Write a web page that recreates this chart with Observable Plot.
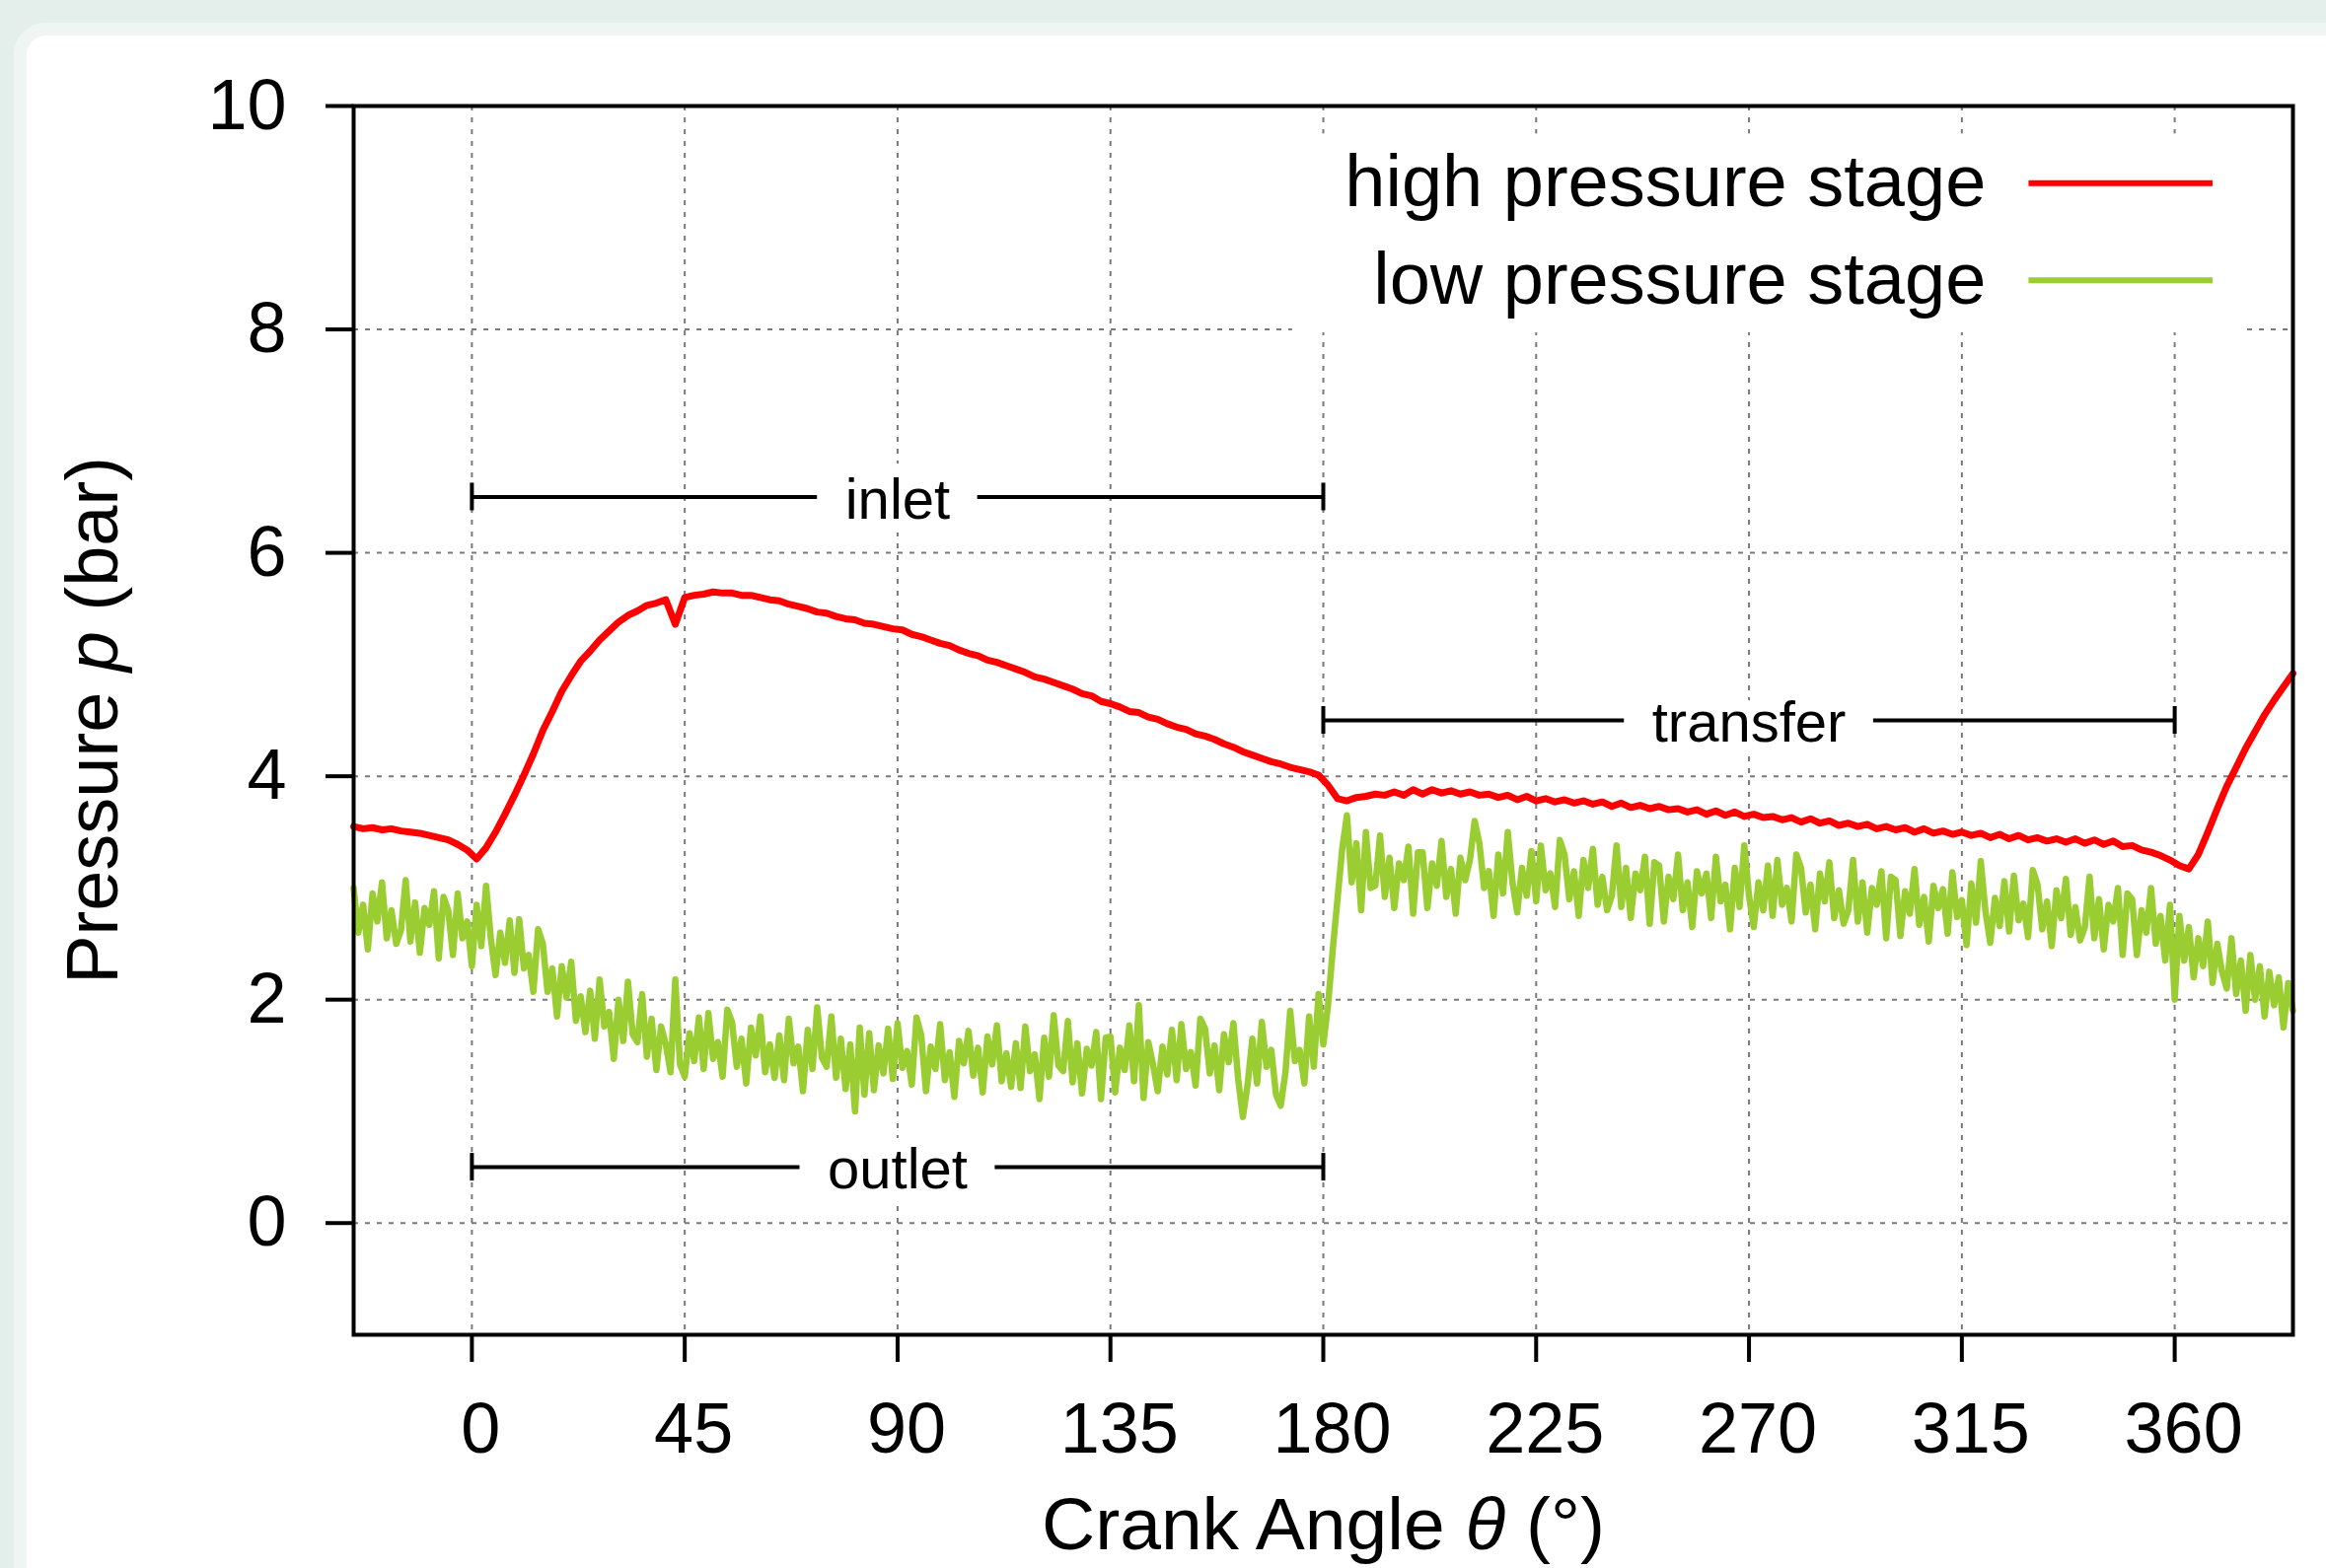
<!DOCTYPE html>
<html>
<head>
<meta charset="utf-8">
<script src="https://cdn.jsdelivr.net/npm/d3@7"></script>
<script src="https://cdn.jsdelivr.net/npm/@observablehq/plot@0.6"></script>
<style>
  html, body { margin: 0; padding: 0; }
  body { width: 2358px; height: 1590px; overflow: hidden; background: #e4eeea; position: relative;
         font-family: "Liberation Sans", Arial, sans-serif; }
  #ring { position: absolute; left: 14px; top: 23px; width: 2420px; height: 1660px; background: #eff5f2; border-radius: 32px; }
  #card { position: absolute; left: 27px; top: 36px; width: 2420px; height: 1660px; background: #ffffff; border-radius: 20px; }
  #chart { position: absolute; left: 0; top: 0; }
</style>
</head>
<body>
<div id="ring"></div>
<div id="card"></div>
<div id="chart"></div>
<script>
// ---------------- data ----------------
const xTicks = [0, 45, 90, 135, 180, 225, 270, 315, 360];
const yTicks = [0, 2, 4, 6, 8, 10];
const seriesNames = ["high pressure stage", "low pressure stage"];
const seriesColors = ["#ff0000", "#9acd32"];
const xTitle = "Crank Angle θ (°)";
const yTitle = "Pressure p (bar)";

// high pressure stage: sampled every 2° starting at -25°
const highStart = -25, highStep = 2;
const highPressure = [
  3.55, 3.53, 3.54, 3.52, 3.53, 3.51, 3.50, 3.49, 3.47, 3.45,
  3.43, 3.39, 3.34, 3.26, 3.36, 3.50, 3.66, 3.83, 4.01, 4.20,
  4.41, 4.58, 4.76, 4.90, 5.03, 5.12, 5.22, 5.30, 5.38, 5.44,
  5.48, 5.53, 5.55, 5.58, 5.36, 5.60, 5.62, 5.63, 5.65, 5.64,
  5.64, 5.62, 5.62, 5.60, 5.58, 5.57, 5.54, 5.52, 5.50, 5.47,
  5.46, 5.43, 5.41, 5.40, 5.37, 5.36, 5.34, 5.32, 5.31, 5.27,
  5.25, 5.22, 5.19, 5.17, 5.13, 5.10, 5.08, 5.04, 5.02, 4.99,
  4.96, 4.93, 4.89, 4.87, 4.84, 4.81, 4.78, 4.74, 4.72, 4.67,
  4.65, 4.62, 4.58, 4.57, 4.53, 4.51, 4.47, 4.44, 4.42, 4.38,
  4.36, 4.33, 4.29, 4.26, 4.22, 4.19, 4.16, 4.13, 4.11, 4.08,
  4.06, 4.04, 4.01, 3.92, 3.80, 3.78, 3.81, 3.82, 3.84, 3.83,
  3.86, 3.83, 3.88, 3.84, 3.88, 3.85, 3.87, 3.84, 3.86, 3.83,
  3.84, 3.81, 3.83, 3.79, 3.82, 3.78, 3.80, 3.77, 3.79, 3.76,
  3.78, 3.75, 3.77, 3.73, 3.76, 3.72, 3.74, 3.71, 3.73, 3.70,
  3.71, 3.68, 3.70, 3.66, 3.69, 3.65, 3.68, 3.64, 3.66, 3.63,
  3.64, 3.61, 3.63, 3.59, 3.62, 3.58, 3.60, 3.56, 3.58, 3.55,
  3.57, 3.53, 3.55, 3.52, 3.54, 3.50, 3.53, 3.49, 3.51, 3.48,
  3.50, 3.47, 3.49, 3.45, 3.48, 3.44, 3.47, 3.43, 3.45, 3.42,
  3.44, 3.41, 3.44, 3.40, 3.43, 3.39, 3.42, 3.37, 3.38, 3.34,
  3.32, 3.29, 3.25, 3.20, 3.17, 3.30, 3.50, 3.71, 3.91, 4.08,
  4.25, 4.40, 4.55, 4.68, 4.80, 4.92
];

// low pressure stage: sampled every 1° starting at -25°
const lowStart = -25, lowStep = 1;
const lowPressure = [
  3.00, 2.60, 2.85, 2.45, 2.95, 2.70, 3.05, 2.55, 2.80, 2.50,
  2.62, 3.07, 2.52, 2.87, 2.42, 2.82, 2.67, 2.97, 2.37, 2.92,
  2.80, 2.40, 2.95, 2.55, 2.70, 2.30, 2.85, 2.48, 3.02, 2.55,
  2.22, 2.60, 2.33, 2.71, 2.24, 2.72, 2.28, 2.40, 2.07, 2.63,
  2.50, 2.07, 2.28, 1.85, 2.30, 2.02, 2.34, 1.81, 2.03, 1.71,
  2.08, 1.65, 2.18, 1.76, 1.89, 1.47, 2.00, 1.63, 2.16, 1.69,
  1.62, 2.05, 1.49, 1.83, 1.37, 1.76, 1.60, 1.35, 2.18, 1.42,
  1.31, 1.70, 1.45, 1.84, 1.38, 1.88, 1.47, 1.62, 1.31, 1.91,
  1.80, 1.40, 1.65, 1.25, 1.75, 1.50, 1.85, 1.35, 1.60, 1.30,
  1.68, 1.28, 1.83, 1.43, 1.58, 1.18, 1.73, 1.38, 1.93, 1.48,
  1.40, 1.85, 1.30, 1.65, 1.20, 1.60, 1.00, 1.75, 1.15, 1.70,
  1.19, 1.59, 1.34, 1.74, 1.29, 1.79, 1.39, 1.54, 1.24, 1.84,
  1.68, 1.18, 1.58, 1.38, 1.78, 1.28, 1.53, 1.13, 1.63, 1.43,
  1.72, 1.32, 1.57, 1.17, 1.67, 1.42, 1.77, 1.27, 1.52, 1.22,
  1.61, 1.21, 1.76, 1.36, 1.51, 1.11, 1.66, 1.31, 1.86, 1.41,
  1.36, 1.81, 1.26, 1.61, 1.16, 1.56, 1.41, 1.71, 1.11, 1.66,
  1.67, 1.17, 1.57, 1.37, 1.77, 1.27, 1.95, 1.12, 1.62, 1.42,
  1.18, 1.58, 1.33, 1.73, 1.28, 1.78, 1.38, 1.53, 1.23, 1.83,
  1.74, 1.34, 1.59, 1.19, 1.69, 1.44, 1.79, 1.29, 0.95, 1.24,
  1.65, 1.25, 1.80, 1.40, 1.55, 1.15, 1.05, 1.35, 1.90, 1.45,
  1.55, 1.25, 1.85, 1.40, 2.05, 1.60, 1.95, 2.45, 2.90, 3.35,
  3.65, 3.05, 3.40, 2.80, 3.50, 3.00, 3.02, 3.47, 2.92, 3.27,
  2.82, 3.22, 3.07, 3.37, 2.77, 3.32, 3.32, 2.82, 3.22, 3.02,
  3.42, 2.92, 3.17, 2.77, 3.27, 3.07, 3.25, 3.60, 3.40, 3.00,
  3.15, 2.75, 3.30, 2.95, 3.50, 3.05, 2.78, 3.18, 2.93, 3.33,
  2.88, 3.38, 2.98, 3.13, 2.83, 3.43, 3.30, 2.90, 3.15, 2.75,
  3.25, 3.00, 3.35, 2.85, 3.10, 2.80, 2.93, 3.38, 2.83, 3.18,
  2.73, 3.13, 2.98, 3.28, 2.68, 3.23, 3.20, 2.70, 3.10, 2.90,
  3.30, 2.80, 3.05, 2.65, 3.15, 2.95, 3.13, 2.73, 3.28, 2.88,
  3.03, 2.63, 3.18, 2.83, 3.38, 2.93, 2.65, 3.05, 2.80, 3.20,
  2.75, 3.25, 2.85, 3.00, 2.70, 3.30, 3.18, 2.78, 3.03, 2.63,
  3.13, 2.88, 3.23, 2.73, 2.98, 2.68, 2.80, 3.25, 2.70, 3.05,
  2.60, 3.00, 2.85, 3.15, 2.55, 3.10, 3.07, 2.57, 2.97, 2.77,
  3.17, 2.67, 2.92, 2.52, 3.02, 2.82, 2.99, 2.59, 3.14, 2.74,
  2.89, 2.49, 3.04, 2.69, 3.24, 2.79, 2.51, 2.91, 2.66, 3.06,
  2.61, 3.11, 2.71, 2.86, 2.56, 3.16, 3.03, 2.63, 2.88, 2.48,
  2.98, 2.73, 3.08, 2.58, 2.83, 2.53, 2.65, 3.10, 2.55, 2.90,
  2.45, 2.85, 2.70, 3.00, 2.40, 2.95, 2.90, 2.40, 2.80, 2.60,
  3.00, 2.50, 2.75, 2.35, 2.85, 2.00, 2.75, 2.35, 2.65, 2.20,
  2.55, 2.30, 2.70, 2.15, 2.50, 2.25, 2.10, 2.55, 2.05, 2.35,
  1.90, 2.40, 2.00, 2.30, 1.85, 2.25, 1.95, 2.20, 1.75, 2.15,
  1.90
];

// phase annotations
const phaseLabels = ["inlet", "transfer", "outlet"];
const phaseStart  = [0, 180, 0];
const phaseEnd    = [180, 360, 180];
const phaseLevel  = [6.5, 4.5, 0.5];

// ---------------- layout ----------------
const W = 2358, H = 1590;
const mL = 358, mR = 34, mT = 107, mB = 237;
const xDomain = [-25, 385], yDomain = [-1, 10];
const ppd = (W - mL - mR) / (xDomain[1] - xDomain[0]);   // px per degree
const ppu = (H - mT - mB) / (yDomain[1] - yDomain[0]);   // px per bar
const FONT = "Liberation Sans, Arial, sans-serif";

const highData = highPressure.map((p, i) => ({angle: highStart + i * highStep, p}));
const lowData  = lowPressure.map((p, i) => ({angle: lowStart + i * lowStep, p}));

// bracket geometry (gap around label measured from the text)
const ctx = document.createElement("canvas").getContext("2d");
ctx.font = "58px 'Liberation Sans'";
const phases = phaseLabels.map((label, i) => ({
  label, s: phaseStart[i], e: phaseEnd[i], y: phaseLevel[i], mid: (phaseStart[i] + phaseEnd[i]) / 2,
  gap: (ctx.measureText(label).width / 2 + 28) / ppd
}));
const segs = phases.flatMap(d => [{x1: d.s, x2: d.mid - d.gap, y: d.y}, {x1: d.mid + d.gap, x2: d.e, y: d.y}]);
const caps = phases.flatMap(d => [{x: d.s, y: d.y}, {x: d.e, y: d.y}]);
const capHalf = 14 / ppu;

// legend placement (data units)
const legendTextX = 320.1, legendLineX1 = 329.2, legendLineX2 = 368.1;
const legendRows = [9.31, 8.44];
const legendBox = {x1: 173.5, x2: 375.2, y1: 7.97, y2: 9.75};

const chart = Plot.plot({
  width: W, height: H,
  marginLeft: mL, marginRight: mR, marginTop: mT, marginBottom: mB,
  x: {domain: xDomain},
  y: {domain: yDomain},
  style: {background: "transparent", fontFamily: FONT, color: "black", overflow: "visible"},
  marks: [
    Plot.gridX({ticks: xTicks, stroke: "#7a7a7a", strokeOpacity: 1, strokeWidth: 2, strokeDasharray: "5,7"}),
    Plot.gridY({ticks: yTicks, stroke: "#7a7a7a", strokeOpacity: 1, strokeWidth: 2, strokeDasharray: "5,7"}),
    Plot.rect([0], {x1: legendBox.x1, x2: legendBox.x2, y1: legendBox.y1, y2: legendBox.y2, fill: "white"}),
    Plot.ruleY(segs, {x1: "x1", x2: "x2", y: "y", stroke: "black", strokeWidth: 4}),
    Plot.ruleX(caps, {x: "x", y1: d => d.y - capHalf, y2: d => d.y + capHalf, stroke: "black", strokeWidth: 4}),
    Plot.text(phases, {x: "mid", y: "y", text: "label", fontSize: 58, lineAnchor: "middle", dy: 3,
                       fill: "black", stroke: "white", strokeWidth: 28}),
    Plot.line(highData, {x: "angle", y: "p", stroke: seriesColors[0], strokeWidth: 7}),
    Plot.line(lowData, {x: "angle", y: "p", stroke: seriesColors[1], strokeWidth: 6.5}),
    Plot.frame({stroke: "black", strokeWidth: 4}),
    // x ticks and (slightly right-shifted) labels
    Plot.axisX({ticks: xTicks, anchor: "bottom", tickSize: 28, strokeWidth: 4, label: null, tickFormat: () => ""}),
    Plot.axisX({ticks: xTicks, anchor: "bottom", tickSize: 0, tickPadding: 68, dx: 9, fontSize: 72,
                label: null, tickFormat: d => String(d)}),
    Plot.axisY({ticks: yTicks, anchor: "left", tickSize: 28, tickPadding: 40, fontSize: 72,
                strokeWidth: 4, label: null, tickFormat: d => String(d)}),
    Plot.text([xTitle], {frameAnchor: "bottom", textAnchor: "middle", dy: 193, fontSize: 75, lineAnchor: "middle"}),
    Plot.text([yTitle], {frameAnchor: "left", textAnchor: "middle", rotate: -90, dx: -263, fontSize: 74, lineAnchor: "middle"}),
    // legend
    Plot.text([seriesNames[0]], {x: legendTextX, y: legendRows[0], textAnchor: "end", lineAnchor: "middle", fontSize: 74}),
    Plot.text([seriesNames[1]], {x: legendTextX, y: legendRows[1], textAnchor: "end", lineAnchor: "middle", fontSize: 74}),
    Plot.ruleY([legendRows[0]], {x1: legendLineX1, x2: legendLineX2, stroke: seriesColors[0], strokeWidth: 6}),
    Plot.ruleY([legendRows[1]], {x1: legendLineX1, x2: legendLineX2, stroke: seriesColors[1], strokeWidth: 6})
  ]
});

// italic symbols in axis titles
const italicize = {[xTitle]: ["Crank Angle ", "θ", " (°)"], [yTitle]: ["Pressure ", "p", " (bar)"]};
d3.select(chart).selectAll("text").each(function () {
  const parts = italicize[this.textContent];
  if (!parts) return;
  const sel = d3.select(this);
  sel.text(null);
  parts.forEach((t, i) => {
    const ts = sel.append("tspan").text(t);
    if (i === 1) ts.attr("font-style", "italic");
  });
});

document.getElementById("chart").appendChild(chart);
</script>
</body>
</html>
